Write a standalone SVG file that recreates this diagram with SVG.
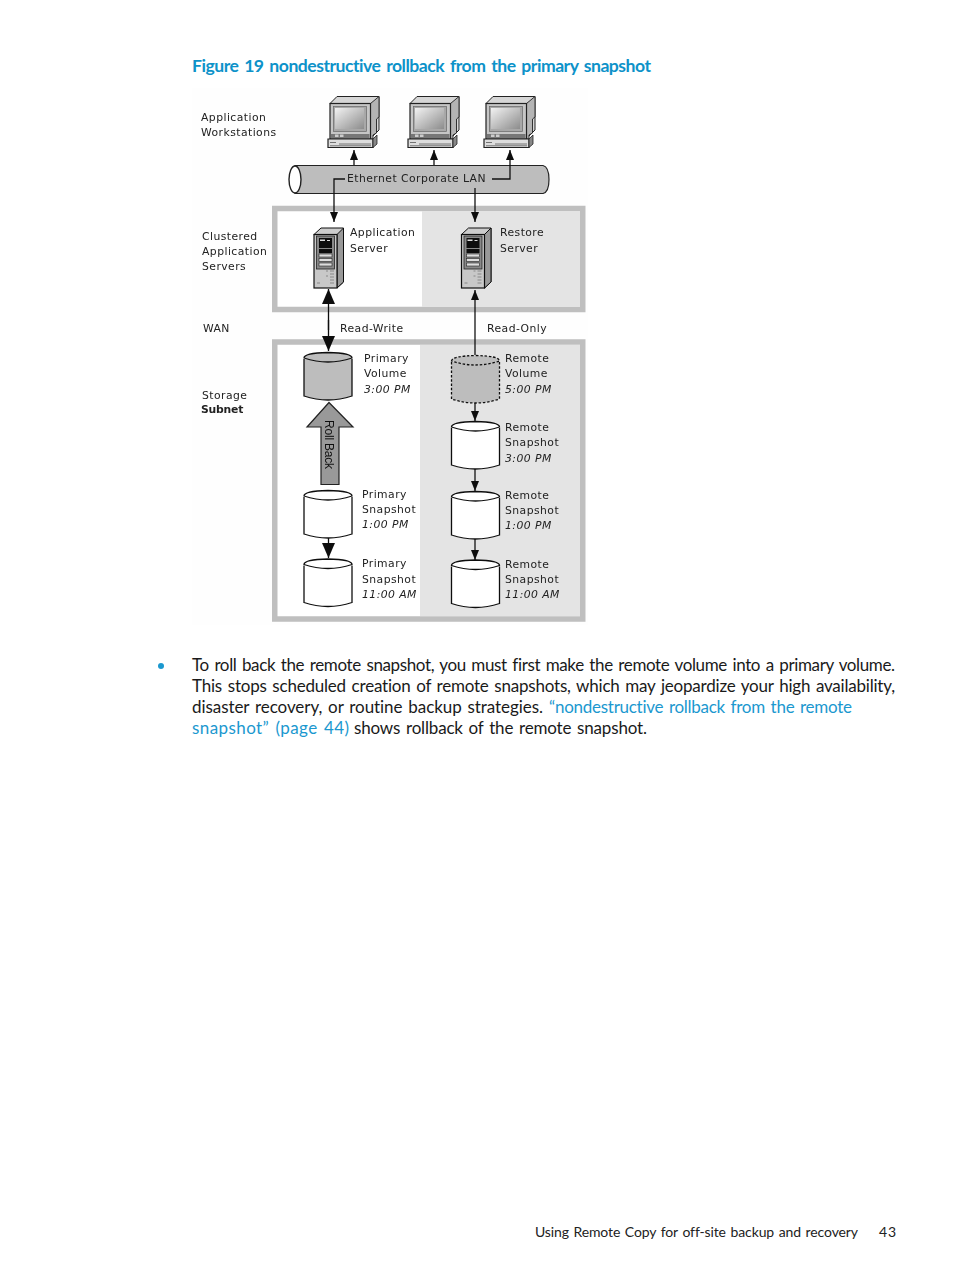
<svg xmlns="http://www.w3.org/2000/svg" width="954" height="1271" viewBox="0 0 954 1271">
<style>
.t{font-family:"DejaVu Sans","Liberation Sans",sans-serif;font-size:10.8px;fill:#222;letter-spacing:.45px}
.i{font-style:italic}
.b{font-weight:bold}
.body{font-family:Lato,"Open Sans",sans-serif;font-size:17px;fill:#1a1a1a;font-variant-ligatures:none;word-spacing:1.6px}
.lnk{fill:#1b98cf}
.ttl{font-family:Lato,"Open Sans",sans-serif;font-size:17.6px;font-weight:bold;fill:#0d92c9;font-variant-ligatures:none;word-spacing:2px}
.foot{font-family:Lato,"Open Sans",sans-serif;font-size:14px;fill:#222;font-variant-ligatures:none;word-spacing:1.2px}
.frame{fill:#fff;stroke:#bfbfbf;stroke-width:5.5}
.grey{fill:#e4e4e4}
.c{stroke:#111;stroke-width:1.3;fill:none}
.cyl{stroke:#111;stroke-width:1.3;fill:#fff}
.cg{fill:#bdbdbd}
.dash{stroke-dasharray:2.5 1.8}
</style>
<defs>
<filter id="soft" x="-2%" y="-2%" width="104%" height="104%"><feGaussianBlur stdDeviation=".3"/></filter>
<marker id="big" markerUnits="userSpaceOnUse" markerWidth="15" markerHeight="14" refX="15" refY="6.500" orient="auto"><path d="M0 0L15 6.500L0 13Z" fill="#111"/></marker>
<marker id="sm" markerUnits="userSpaceOnUse" markerWidth="11" markerHeight="10" refX="10" refY="4.500" orient="auto"><path d="M0 .5L10 4.500L0 8.500Z" fill="#111"/></marker>
<linearGradient id="scr" x1="0" y1="0" x2="1" y2="1"><stop offset="0" stop-color="#f2f2f2"/><stop offset="1" stop-color="#8c8c8c"/></linearGradient>
<g id="mon">
<path d="M330 103.500L337 96.500H379V130L373 136V103.500Z" fill="#d6d6d6" stroke="#222"/>
<path d="M370.500 103.500L379 96.500V117L376.500 119V133L373 135V139H370.500Z" fill="#b4b4b4" stroke="#222" stroke-width=".9"/>
<rect x="330" y="103.500" width="40.500" height="35.500" fill="#c6c6c6" stroke="#222" stroke-width="1.200"/>
<rect x="333.500" y="106.500" width="33" height="25" fill="#a8a8a8" stroke="#666" stroke-width=".7"/>
<rect x="335" y="108" width="29" height="21" fill="url(#scr)"/>
<rect x="331" y="134" width="38.500" height="4" fill="#777"/>
<rect x="335" y="134.500" width="3.500" height="2.500" fill="#ccc"/><rect x="340" y="134.500" width="3.500" height="2.500" fill="#ccc"/>
<path d="M328 139H373V147.500H328Z" fill="#ddd" stroke="#222" stroke-width="1.200"/>
<path d="M373 139L377 135V144L373 147.500Z" fill="#888" stroke="#222" stroke-width=".8"/>
<path d="M330 142.500H336M339 144H371M330 145.800H371" stroke="#666" stroke-width=".9"/>
</g>
<g id="srv">
<path d="M314 234.500L321 228H343.500V282L337 288Z" fill="#ccc" stroke="#111"/>
<path d="M337 234.500L343.500 228V282L337 288Z" fill="#999" stroke="#111"/>
<rect x="314" y="234.500" width="23" height="53.500" fill="#c8c8c8" stroke="#111" stroke-width="1.200"/>
<rect x="316.500" y="236" width="18" height="33" fill="#888" stroke="#222" stroke-width=".8"/>
<rect x="319" y="238" width="13" height="10" fill="#111"/>
<rect x="320" y="239.500" width="5" height="1.500" fill="#ddd"/><rect x="327" y="240" width="3" height="1" fill="#ddd"/>
<rect x="319" y="249" width="13" height="4" fill="#111"/>
<rect x="319" y="254" width="13" height="3" fill="#ddd" stroke="#222" stroke-width=".6"/>
<rect x="319" y="258.500" width="13" height="3" fill="#ddd" stroke="#222" stroke-width=".6"/>
<rect x="319" y="263" width="13" height="3" fill="#ddd" stroke="#222" stroke-width=".6"/>
<path d="M326 271H328M330 271H334M330 274H334M326 276H328M330 277H334M330 280H334M330 283H334M317 283H320" stroke="#888" stroke-width="1"/>
</g>
<g id="cyl">
<path d="M0 7V44Q24 52 48 44V7"/>
<path d="M0 6Q0 1 24 .5Q48 1 48 6Q24 14 0 6Z"/>
</g>
</defs>
<g id="figure-title"><text class="ttl" x="192" y="72" textLength="459" lengthAdjust="spacing">Figure 19 nondestructive rollback from the primary snapshot</text></g>
<rect id="figure-bg" x="192" y="88" width="396" height="537" fill="#fefefe"/>

<g filter="url(#soft)">
<g id="frame-servers"><rect class="frame" x="274.750" y="208.500" width="308" height="101"/><rect class="grey" x="422" y="211" width="158" height="96"/></g>
<g id="frame-storage"><rect class="frame" x="274.750" y="342" width="308" height="277"/><rect class="grey" x="420" y="345" width="160" height="271"/></g>

<g id="lan">
<path d="M295 165.500H543Q549 167 549 179.500Q549 192 543 193.500H295Z" fill="#bdbdbd" stroke="#222" stroke-width="1.200"/>
<ellipse cx="295" cy="179.500" rx="6" ry="13.500" fill="#fff" stroke="#222" stroke-width="1.400"/>
</g>
<g id="connectors">
<path class="c" d="M354 165V150" marker-end="url(#sm)"/>
<path class="c" d="M434 165V150" marker-end="url(#sm)"/>
<path class="c" d="M492 179H510V150" marker-end="url(#sm)"/>
<path class="c" d="M345 179H334V222" marker-end="url(#sm)"/>
<path class="c" d="M475 188V222" marker-end="url(#sm)"/>
<path class="c" d="M328.500 330V289" marker-end="url(#big)"/>
<path class="c" d="M328.500 320V351" marker-end="url(#big)"/>
<path class="c" d="M475 355V290" marker-end="url(#sm)"/>
<path class="c" d="M475 402V421" marker-end="url(#sm)"/>
<path class="c" d="M475 468V491" marker-end="url(#sm)"/>
<path class="c" d="M475 537V560" marker-end="url(#sm)"/>
<path class="c" d="M328.500 537V558" marker-end="url(#big)"/>
</g>
<g id="rollback"><path d="M329 402.500L353 427H339V484.500H321V427H307Z" fill="#999" stroke="#222" stroke-width="1.200"/><text transform="translate(325 420) rotate(90)" style="font-family:'Liberation Sans',sans-serif;font-size:12px;fill:#111" textLength="49">Roll Back</text></g>

<g id="ws1"><use href="#mon"/></g>
<g id="ws2"><use href="#mon" x="80"/></g>
<g id="ws3"><use href="#mon" x="156"/></g>
<g id="app-server"><use href="#srv"/></g>
<g id="restore-server"><use href="#srv" x="147.500"/></g>

<g id="primary-volume" class="cyl" transform="translate(304 352)"><use href="#cyl" class="cg"/></g>
<g id="remote-volume" class="cyl dash" transform="translate(451.500 355)"><use href="#cyl" class="cg"/></g>
<g id="remote-3" class="cyl" transform="translate(451.500 421)"><use href="#cyl"/></g>
<g id="remote-1" class="cyl" transform="translate(451.500 491)"><use href="#cyl"/></g>
<g id="remote-11" class="cyl" transform="translate(451.500 559.500)"><use href="#cyl"/></g>
<g id="primary-1" class="cyl" transform="translate(304 490)"><use href="#cyl"/></g>
<g id="primary-11" class="cyl" transform="translate(304 558.500)"><use href="#cyl"/></g>

<g id="labels">
<text class="t" x="201" y="120.500">Application</text><text class="t" x="201" y="136">Workstations</text>
<text class="t" x="347" y="182">Ethernet Corporate LAN</text>
<text class="t" x="202" y="240">Clustered</text><text class="t" x="202" y="254.500">Application</text><text class="t" x="202" y="270">Servers</text>
<text class="t" x="350" y="236">Application</text><text class="t" x="350" y="252">Server</text>
<text class="t" x="500" y="236">Restore</text><text class="t" x="500" y="252">Server</text>
<text class="t" x="203" y="331.500">WAN</text>
<text class="t" x="340" y="331.500">Read-Write</text><text class="t" x="487" y="331.500">Read-Only</text>
<text class="t" x="202" y="399">Storage</text><text class="t b" x="201" y="413" style="letter-spacing:-.2px">Subnet</text>
<text class="t" x="364" y="361.500">Primary</text><text class="t" x="364" y="377">Volume</text><text class="t i" x="364" y="392.500">3:00 PM</text>
<text class="t" x="505" y="361.500">Remote</text><text class="t" x="505" y="377">Volume</text><text class="t i" x="505" y="392.500">5:00 PM</text>
<text class="t" x="505" y="430.500">Remote</text><text class="t" x="505" y="446">Snapshot</text><text class="t i" x="505" y="461.500">3:00 PM</text>
<text class="t" x="505" y="499">Remote</text><text class="t" x="505" y="513.500">Snapshot</text><text class="t i" x="505" y="529">1:00 PM</text>
<text class="t" x="505" y="568">Remote</text><text class="t" x="505" y="582.500">Snapshot</text><text class="t i" x="505" y="597.500">11:00 AM</text>
<text class="t" x="362" y="498">Primary</text><text class="t" x="362" y="512.500">Snapshot</text><text class="t i" x="362" y="528">1:00 PM</text>
<text class="t" x="362" y="567">Primary</text><text class="t" x="362" y="582.500">Snapshot</text><text class="t i" x="362" y="597.500">11:00 AM</text>
</g>
</g>

<g id="body-text">
<circle cx="161" cy="666" r="3" fill="#1b98cf"/>
<text class="body" x="192" y="671" textLength="703" lengthAdjust="spacing">To roll back the remote snapshot, you must first make the remote volume into a primary volume.</text>
<text class="body" x="192" y="692" textLength="703" lengthAdjust="spacing">This stops scheduled creation of remote snapshots, which may jeopardize your high availability,</text>
<text class="body" x="192" y="713" textLength="351" lengthAdjust="spacing">disaster recovery, or routine backup strategies.</text>
<text class="body lnk" x="549" y="713" textLength="303" lengthAdjust="spacing">“nondestructive rollback from the remote</text>
<text class="body lnk" x="192" y="734" textLength="157" lengthAdjust="spacing">snapshot” (page 44)</text>
<text class="body" x="354" y="734" textLength="293" lengthAdjust="spacing">shows rollback of the remote snapshot.</text>
</g>
<g id="footer">
<text class="foot" x="535" y="1237" textLength="323" lengthAdjust="spacing">Using Remote Copy for off-site backup and recovery</text>
<text class="foot" x="879" y="1237" textLength="17" lengthAdjust="spacing">43</text>
</g>
</svg>
